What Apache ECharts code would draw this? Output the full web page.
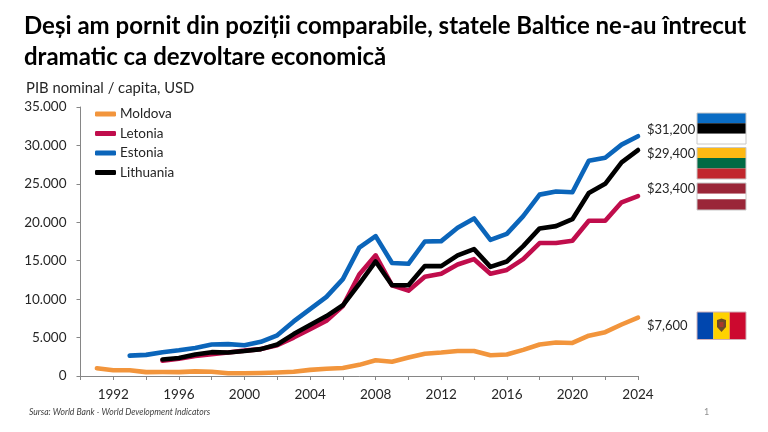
<!DOCTYPE html>
<html>
<head>
<meta charset="utf-8">
<style>html,body{margin:0;padding:0;background:#fff}#c{width:768px;height:432px}</style>
<script src="https://cdn.jsdelivr.net/npm/echarts@6/dist/echarts.min.js"></script>
</head>
<body>
<div id="c"></div>
<script>
// GDP per capita, nominal USD, by year
const moldovaYears = [1991,1992,1993,1994,1995,1996,1997,1998,1999,2000,2001,2002,2003,2004,2005,2006,2007,2008,2009,2010,2011,2012,2013,2014,2015,2016,2017,2018,2019,2020,2021,2022,2023,2024];
const moldova = [1000,750,750,500,520,500,600,550,350,350,400,460,550,800,950,1050,1450,2050,1850,2400,2900,3050,3250,3250,2700,2800,3400,4100,4350,4300,5250,5700,6700,7600];
const estoniaYears = [1993,1994,1995,1996,1997,1998,1999,2000,2001,2002,2003,2004,2005,2006,2007,2008,2009,2010,2011,2012,2013,2014,2015,2016,2017,2018,2019,2020,2021,2022,2023,2024];
const estonia = [2650,2750,3100,3350,3650,4100,4150,4000,4450,5300,7100,8700,10300,12600,16700,18200,14700,14600,17500,17550,19300,20500,17700,18500,20800,23600,24000,23900,28000,28400,30100,31200];
const balticYears = [1995,1996,1997,1998,1999,2000,2001,2002,2003,2004,2005,2006,2007,2008,2009,2010,2011,2012,2013,2014,2015,2016,2017,2018,2019,2020,2021,2022,2023,2024];
const lithuania = [2150,2350,2800,3100,3050,3250,3500,4100,5450,6650,7800,9200,12000,14900,11800,11800,14300,14300,15700,16500,14200,14900,16900,19200,19500,20400,23800,25000,27800,29400];
const latvia = [2000,2250,2600,2850,3050,3300,3500,4000,5000,6100,7200,9100,13200,15700,11800,11100,12900,13300,14500,15200,13300,13800,15200,17300,17300,17600,20200,20200,22600,23400];

const FONT = 'Lato, "Open Sans", sans-serif';
const TEXT = '#262626';
const zip = (xs, ys) => xs.map((x, i) => [x, ys[i]]);
const usd = v => '$' + v.toLocaleString('en-US');

function lineSeries(name, years, values, color, labelOffset) {
  return {
    name, type: 'line', data: zip(years, values),
    showSymbol: false, symbol: 'none', smooth: false, silent: true,
    lineStyle: { color, width: 4.6, cap: 'round', join: 'round' },
    itemStyle: { color },
    endLabel: {
      show: true, offset: labelOffset, color: TEXT, fontFamily: FONT, fontSize: 13,
      formatter: p => usd(p.value[1])
    },
    labelLayout: { hideOverlap: false }
  };
}

// flags are stacked colour bands; vertical = true lays the bands side by side
function flag(x, y, w, h, bands, vertical, stroke) {
  const total = bands.reduce((s, b) => s + b[1], 0);
  let pos = 0;
  const out = bands.map(([fill, size]) => {
    const shape = vertical
      ? { x: x + pos / total * w, y, width: size / total * w, height: h }
      : { x, y: y + pos / total * h, width: w, height: size / total * h };
    pos += size;
    return { type: 'rect', shape, style: { fill } };
  });
  out.push({ type: 'rect', shape: { x, y, width: w, height: h }, style: { fill: 'none', stroke: stroke, lineWidth: 1 } });
  return out;
}

const flags = [
  ...flag(697, 113, 49, 31, [['#0A6CC4', 1], ['#000000', 1], ['#FFFFFF', 1]], false, '#C8C8C8'),
  ...flag(697, 147.5, 49, 31.5, [['#FDB913', 1], ['#006A44', 1], ['#C1272D', 1]], false, '#C8C8C8'),
  ...flag(697, 183, 49, 27, [['#9A2638', 2], ['#FFFFFF', 1], ['#9A2638', 2]], false, '#C8C8C8'),
  ...flag(697, 312, 49, 27.5, [['#0046AE', 1], ['#FFD200', 1], ['#CC092F', 1]], true, '#D0B0B8'),
  // Moldovan coat of arms, simplified
  { type: 'polygon', shape: { points: [[717,320],[721.5,318.5],[726,320],[726,327],[721.5,332],[717,327]] }, style: { fill: '#6B4A2A' } },
  { type: 'rect', shape: { x: 719.5, y: 322, width: 4, height: 5 }, style: { fill: '#A83A2A' } }
];

const chart = echarts.init(document.getElementById('c'));
chart.setOption({
  animation: false,
  backgroundColor: '#fff',
  title: [
    { text: 'Deși am pornit din poziții comparabile, statele Baltice ne-au întrecut\ndramatic ca dezvoltare economică',
      left: 19, top: 6,
      textStyle: { fontFamily: FONT, fontSize: 24, fontWeight: 'bold', color: '#000', lineHeight: 31 } },
    { text: 'PIB nominal / capita, USD', left: 21, top: 76,
      textStyle: { fontFamily: FONT, fontSize: 14.8, fontWeight: 'normal', color: TEXT } },
    { text: 'Sursa: World Bank - World Development Indicators', left: 24, top: 403,
      textStyle: { fontFamily: FONT, fontSize: 8.6, fontStyle: 'italic', fontWeight: 'normal', color: '#404040' } },
    { text: '1', left: 699, top: 403,
      textStyle: { fontFamily: FONT, fontSize: 9, fontWeight: 'normal', color: '#909090' } }
  ],
  legend: {
    orient: 'vertical', left: 90, top: 102, itemWidth: 21, itemHeight: 5, itemGap: 5.5,
    icon: 'roundRect',
    data: ['Moldova', 'Letonia', 'Estonia', 'Lithuania'],
    textStyle: { fontFamily: FONT, fontSize: 13.5, color: TEXT, padding: [0, 0, 0, -1], lineHeight: 14 }
  },
  grid: { left: 80.5, right: 130, top: 107, bottom: 56, containLabel: false },
  xAxis: {
    type: 'value', min: 1990, max: 2024, interval: 2,
    splitLine: { show: false },
    axisLine: { lineStyle: { color: '#868686', width: 1 } },
    axisTick: { length: 4, lineStyle: { color: '#868686' } },
    axisLabel: {
      color: TEXT, fontFamily: FONT, fontSize: 13.5, margin: 12, showMinLabel: true,
      formatter: v => (v % 4 === 0 ? String(v) : '')
    }
  },
  yAxis: {
    type: 'value', min: 0, max: 35000, interval: 5000,
    splitLine: { show: false },
    axisLine: { show: true, lineStyle: { color: '#868686', width: 1 } },
    axisTick: { show: true, length: 4, lineStyle: { color: '#868686' } },
    axisLabel: {
      color: TEXT, fontFamily: FONT, fontSize: 13.5, margin: 14,
      formatter: v => v === 0 ? '0' : v.toLocaleString('de-DE')
    }
  },
  series: [
    lineSeries('Moldova', moldovaYears, moldova, '#F2953C', [1, 8]),
    lineSeries('Letonia', balticYears, latvia, '#C00D4C', [1, -7]),
    lineSeries('Estonia', estoniaYears, estonia, '#0B65BA', [1, -6]),
    lineSeries('Lithuania', balticYears, lithuania, '#000000', [1, 4])
  ],
  graphic: { elements: flags }
});
</script>
</body>
</html>
